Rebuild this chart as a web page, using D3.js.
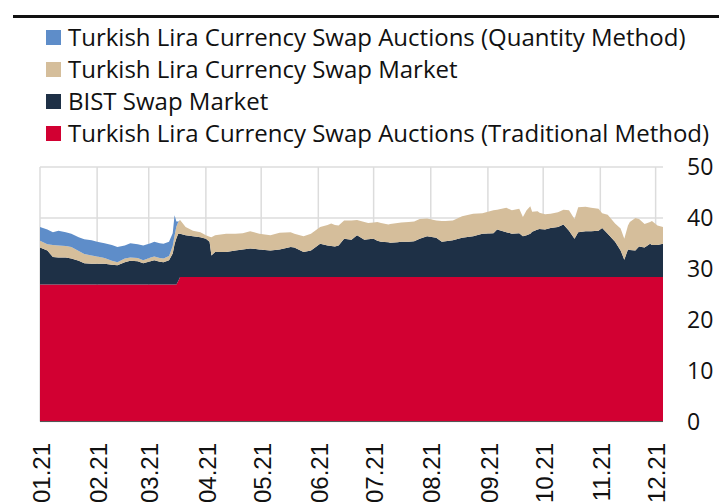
<!DOCTYPE html>
<html>
<head>
<meta charset="utf-8">
<script src="https://cdn.jsdelivr.net/npm/d3@7"></script>
<style>
  body { margin: 0; background: #fff; }
  svg { display: block; }
</style>
</head>
<body>
<svg width="719" height="502"></svg>
<script>
// observation dates (2021)
var dates = [
  "2021-01-01","2021-01-05","2021-01-08","2021-01-11","2021-01-15","2021-01-18","2021-01-22","2021-01-25","2021-01-29",
  "2021-02-01","2021-02-05","2021-02-09","2021-02-12","2021-02-16","2021-02-19","2021-02-23","2021-02-26",
  "2021-03-02","2021-03-04","2021-03-07","2021-03-09","2021-03-12","2021-03-14","2021-03-15","2021-03-16","2021-03-17",
  "2021-03-18","2021-03-21","2021-03-25","2021-03-29",
  "2021-04-01","2021-04-03","2021-04-04","2021-04-06","2021-04-12","2021-04-17","2021-04-21","2021-04-25","2021-04-30",
  "2021-05-06","2021-05-11","2021-05-17","2021-05-19","2021-05-24","2021-05-28",
  "2021-06-02","2021-06-06","2021-06-08","2021-06-10","2021-06-12","2021-06-15","2021-06-19","2021-06-22","2021-06-26","2021-06-28",
  "2021-07-01","2021-07-03","2021-07-05","2021-07-09","2021-07-10","2021-07-14","2021-07-16","2021-07-20","2021-07-23","2021-07-26","2021-07-30",
  "2021-08-04","2021-08-07","2021-08-09","2021-08-13","2021-08-18","2021-08-24","2021-08-29",
  "2021-09-04","2021-09-06","2021-09-11","2021-09-14","2021-09-18","2021-09-20","2021-09-22","2021-09-24","2021-09-25","2021-09-28","2021-09-29",
  "2021-10-02","2021-10-05","2021-10-09","2021-10-12","2021-10-15","2021-10-18","2021-10-20","2021-10-24","2021-10-27","2021-10-31",
  "2021-11-02","2021-11-05","2021-11-09","2021-11-12","2021-11-14","2021-11-16","2021-11-17","2021-11-20","2021-11-22","2021-11-25","2021-11-28","2021-11-29",
  "2021-12-02","2021-12-05"
];

// Turkish Lira Currency Swap Auctions (Traditional Method)
var traditional = [
  26.9,26.9,26.9,26.9,26.9,26.9,26.9,26.9,26.9,
  26.9,26.9,26.9,26.9,26.9,26.9,26.9,26.9,
  26.9,26.9,26.9,26.9,26.9,26.9,26.9,26.9,27.6,
  28.4,28.4,28.4,28.4,
  28.4,28.4,28.4,28.4,28.4,28.4,28.4,28.4,28.4,
  28.4,28.4,28.4,28.4,28.4,28.4,
  28.4,28.4,28.4,28.4,28.4,28.4,28.4,28.4,28.4,28.4,
  28.4,28.4,28.4,28.4,28.4,28.4,28.4,28.4,28.4,28.4,28.4,
  28.4,28.4,28.4,28.4,28.4,28.4,28.4,
  28.4,28.4,28.4,28.4,28.4,28.4,28.4,28.4,28.4,28.4,28.4,
  28.4,28.4,28.4,28.4,28.4,28.4,28.4,28.4,28.4,28.4,
  28.4,28.4,28.4,28.4,28.4,28.4,28.4,28.4,28.4,28.4,28.4,28.4,
  28.4,28.4
];

// BIST Swap Market
var bist = [
  7.3,6.7,5.4,5.3,5.3,5.1,4.7,4.2,4.1,
  4.1,4.1,3.9,3.8,4.4,4.7,4.6,4.2,
  4.6,4.8,4.5,4.4,4.8,6.1,7.9,9.1,9.3,
  8.5,8.2,8.0,7.8,
  7.5,6.9,4.2,4.9,4.9,5.2,5.4,5.6,5.4,
  5.2,5.4,5.9,5.8,4.9,5.2,
  6.5,6.2,6.1,6.0,6.2,7.5,7.3,8.2,7.3,7.4,
  7.5,7.1,6.9,6.8,6.7,6.8,6.9,6.9,7.0,7.5,8.0,
  7.7,6.9,7.0,7.2,7.7,8.0,8.5,
  8.6,9.3,8.8,8.5,8.6,8.0,8.2,8.5,8.9,9.3,9.4,
  9.3,9.6,9.8,10.3,9.1,7.5,8.8,9.0,9.0,9.1,
  9.6,8.5,6.9,5.2,3.4,5.4,5.3,5.2,6.0,5.8,6.5,6.3,
  6.3,6.5
];

// Turkish Lira Currency Swap Market
var tlSwap = [
  1.3,1.2,2.4,2.4,2.3,2.3,1.9,1.8,1.6,
  1.4,1.1,0.8,0.6,0.7,0.6,0.6,0.6,
  0.7,0.7,0.7,0.7,0.8,1.5,1.7,2.3,2.3,
  2.7,1.6,1.1,1.0,
  0.7,1.0,3.6,3.3,3.6,3.3,3.2,3.4,3.1,
  3.0,3.3,2.9,2.7,3.1,3.3,
  3.3,4.0,4.4,4.2,3.9,3.6,3.8,3.0,3.5,3.2,
  3.2,3.7,3.7,3.5,3.7,3.8,3.8,3.9,3.9,3.9,3.5,
  3.4,4.1,4.0,3.9,4.2,4.4,4.0,
  4.5,3.9,4.8,4.6,4.8,3.8,4.9,5.4,3.9,3.6,3.2,
  3.0,2.8,2.9,2.9,4.0,3.9,4.9,4.8,4.6,4.3,
  2.9,3.7,3.6,4.3,4.1,4.7,5.5,6.4,5.4,4.6,4.3,4.7,
  3.8,3.3
];

// Turkish Lira Currency Swap Auctions (Quantity Method) - ends mid March
var quantity = [
  2.7,2.9,2.5,2.9,2.7,2.6,2.7,2.9,3.0,
  2.9,2.9,3.1,3.0,2.6,2.8,2.7,2.9,
  2.8,2.9,2.9,2.9,2.8,2.5,4.0,1.0,0.1,
  0
];

var seriesNames = [
  "Turkish Lira Currency Swap Auctions (Quantity Method)",
  "Turkish Lira Currency Swap Market",
  "BIST Swap Market",
  "Turkish Lira Currency Swap Auctions (Traditional Method)"
];
var seriesColors = ["#5e8dc9", "#d5be9b", "#1e3046", "#d20032"];
var monthLabels = ["01.21","02.21","03.21","04.21","05.21","06.21","07.21","08.21","09.21","10.21","11.21","12.21"];
var yTicks = [0, 10, 20, 30, 40, 50];

var svg = d3.select("svg");
var parse = d3.timeParse("%Y-%m-%d");

var rows = dates.map(function(d, i) {
  return {
    date: parse(d),
    trad: traditional[i],
    bist: bist[i],
    tl: tlSwap[i],
    qty: i < quantity.length ? quantity[i] : 0
  };
});

var x = d3.scaleTime()
    .domain([parse("2021-01-01"), parse("2021-12-05")])
    .range([40, 663]);
var y = d3.scaleLinear().domain([0, 50]).range([421.5, 167]);

// top rule
svg.append("line")
    .attr("x1", 13).attr("x2", 719)
    .attr("y1", 16.5).attr("y2", 16.5)
    .attr("stroke", "#111").attr("stroke-width", 3);

// legend
var legend = svg.append("g").selectAll("g")
    .data(seriesNames)
  .enter().append("g")
    .attr("transform", function(d, i) { return "translate(46," + (37.5 + i * 32) + ")"; });
legend.append("rect")
    .attr("x", 0).attr("y", -7.5)
    .attr("width", 15).attr("height", 15)
    .attr("fill", function(d, i) { return seriesColors[i]; });
legend.append("text")
    .attr("x", 22).attr("dy", "0.36em")
    .style("font-family", "'Open Sans', sans-serif")
    .style("font-size", "24px")
    .attr("fill", "#111")
    .text(function(d) { return d; });

// grid
var months = monthLabels.map(function(m, i) { return new Date(2021, i, 1); });
var grid = svg.append("g").attr("stroke", "#dcdcdc").attr("stroke-width", 1.5);
grid.selectAll("line.v").data(months).enter().append("line")
    .attr("class", "v")
    .attr("x1", function(d) { return x(d); }).attr("x2", function(d) { return x(d); })
    .attr("y1", y(50)).attr("y2", y(0));
grid.selectAll("line.h").data(yTicks).enter().append("line")
    .attr("class", "h")
    .attr("x1", 40).attr("x2", 663)
    .attr("y1", function(d) { return y(d); }).attr("y2", function(d) { return y(d); });

// stacked areas
var stack = d3.stack().keys(["trad", "bist", "tl", "qty"]);
var layers = stack(rows);
var layerColors = ["#d20032", "#1e3046", "#d5be9b", "#5e8dc9"];

var area = d3.area()
    .x(function(d) { return x(d.data.date); })
    .y0(function(d) { return y(d[0]); })
    .y1(function(d) { return y(d[1]); });

svg.append("g").selectAll("path")
    .data(layers)
  .enter().append("path")
    .attr("fill", function(d, i) { return layerColors[i]; })
    .attr("d", function(d) {
      if (d.key === "qty") return area.defined(function(p, i) { return i < quantity.length; })(d);
      return area.defined(function() { return true; })(d);
    });

// x axis line
svg.append("line")
    .attr("x1", 40).attr("x2", 663)
    .attr("y1", y(0)).attr("y2", y(0))
    .attr("stroke", "#555").attr("stroke-width", 1);

// x labels (rotated)
svg.append("g").selectAll("text")
    .data(months)
  .enter().append("text")
    .attr("transform", function(d) { return "translate(" + (x(d) + 1) + ",443) rotate(-90)"; })
    .attr("text-anchor", "end")
    .attr("dy", "0.36em")
    .style("font-family", "'Liberation Sans', Arial, sans-serif")
    .style("font-size", "24px")
    .attr("fill", "#111")
    .text(function(d, i) { return monthLabels[i]; });

// y labels on the right
svg.append("g").selectAll("text")
    .data(yTicks)
  .enter().append("text")
    .attr("x", 687)
    .attr("y", function(d) { return y(d); })
    .attr("dy", "0.36em")
    .style("font-family", "'Open Sans', sans-serif")
    .style("font-size", "23px")
    .attr("fill", "#111")
    .text(function(d) { return d; });
</script>
</body>
</html>
